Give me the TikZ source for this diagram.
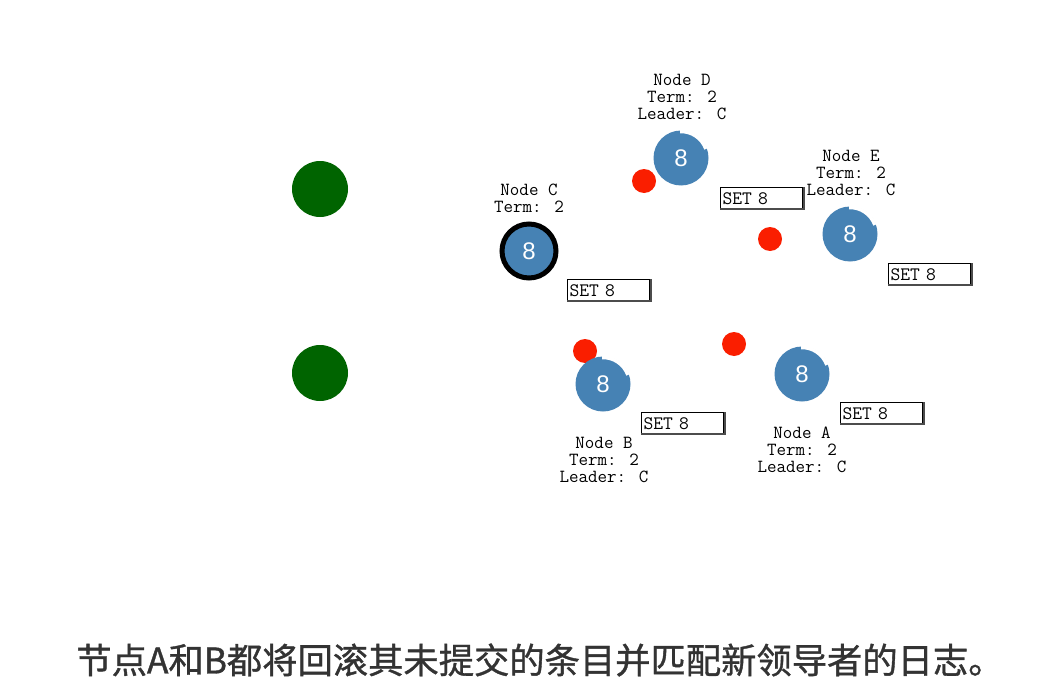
\documentclass[tikz,border=0pt]{standalone}
\usepackage{fontspec}
\newfontfamily\cjk{Noto Sans CJK SC}[FakeBold=1]
\newfontfamily\digitfont{Liberation Sans}
\definecolor{nodeblue}{RGB}{70,130,180}
\definecolor{dotred}{RGB}{250,30,0}
\definecolor{dkgreen}{RGB}{0,100,0}
\definecolor{captiongray}{RGB}{51,51,51}
\begin{document}
\begin{tikzpicture}[x=1pt,y=-1pt,
  srv/.style={circle,fill=nodeblue,minimum size=55pt,inner sep=0pt,text=white,font=\digitfont\fontsize{24}{28}\selectfont},
  reddot/.style={circle,fill=dotred,minimum size=24pt,inner sep=0pt},
  client/.style={circle,fill=dkgreen,minimum size=56pt,inner sep=0pt},
  lbl/.style={align=center,inner sep=0pt,font=\ttfamily\fontsize{18.5}{17}\selectfont},
  setbox/.style={draw=black,line width=1pt,anchor=north west,text width=78pt,align=left,inner xsep=2pt,inner ysep=0pt,minimum height=22pt,font=\ttfamily\fontsize{19}{18}\selectfont},
  notch/.style={draw=white,line width=3.5pt},
  shadowline/.style={draw=black!70,line width=1.2pt}
]
\useasboundingbox (0,0) rectangle (1049,690);
\fill[white] (0,0) rectangle (1049,690);

% clients
\node[client] (c1) at (320,189) {};
\node[client] (c2) at (320,373) {};

% red dots
\node[reddot] (r1) at (644,181) {};
\node[reddot] (r2) at (770,239) {};
\node[reddot] (r3) at (585,351) {};
\node[reddot] (r4) at (734,344) {};

% servers
\node[srv] (nD) at (681,158) {8};
\node[srv] (nE) at (850,234) {8};
\node[srv] (nB) at (603,384) {8};
\node[srv] (nA) at (802,374) {8};
\node[srv,draw=black,line width=5pt,minimum size=54pt] (nC) at (529,251) {8};

% notches (partial white arcs)
\foreach \n in {nD,nE,nB,nA}{
  \draw[notch] (\n.center) ++(-20:26.5) arc[start angle=-20,end angle=-92,radius=26.5];
}

% labels
\node[lbl] (lD) at (682,97) {Node D\\Term: 2\\Leader: C};
\node[lbl] (lC) at (529,198) {Node C\\Term: 2};
\node[lbl] (lE) at (851,173) {Node E\\Term: 2\\Leader: C};
\node[lbl] (lB) at (604,460) {Node B\\Term: 2\\Leader: C};
\node[lbl] (lA) at (802,450) {Node A\\Term: 2\\Leader: C};

% SET boxes
\node[setbox] (sD) at (720,187) {SET 8};
\node[setbox] (sC) at (567,279) {SET 8};
\node[setbox] (sE) at (888,263) {SET 8};
\node[setbox] (sB) at (641,412) {SET 8};
\node[setbox] (sA) at (840,402) {SET 8};
\foreach \s in {sD,sC,sE,sB,sA}{
  \draw[shadowline] ([xshift=1pt]\s.north east) -- ([xshift=1pt,yshift=1pt]\s.south east) -- ([yshift=1pt]\s.south west);
}

% caption
\node[inner sep=0pt,text=captiongray,font=\cjk\fontsize{35.3}{40}\selectfont] (cap) at (540,660) {节点A和B都将回滚其未提交的条目并匹配新领导者的日志。};
\end{tikzpicture}
\end{document}
